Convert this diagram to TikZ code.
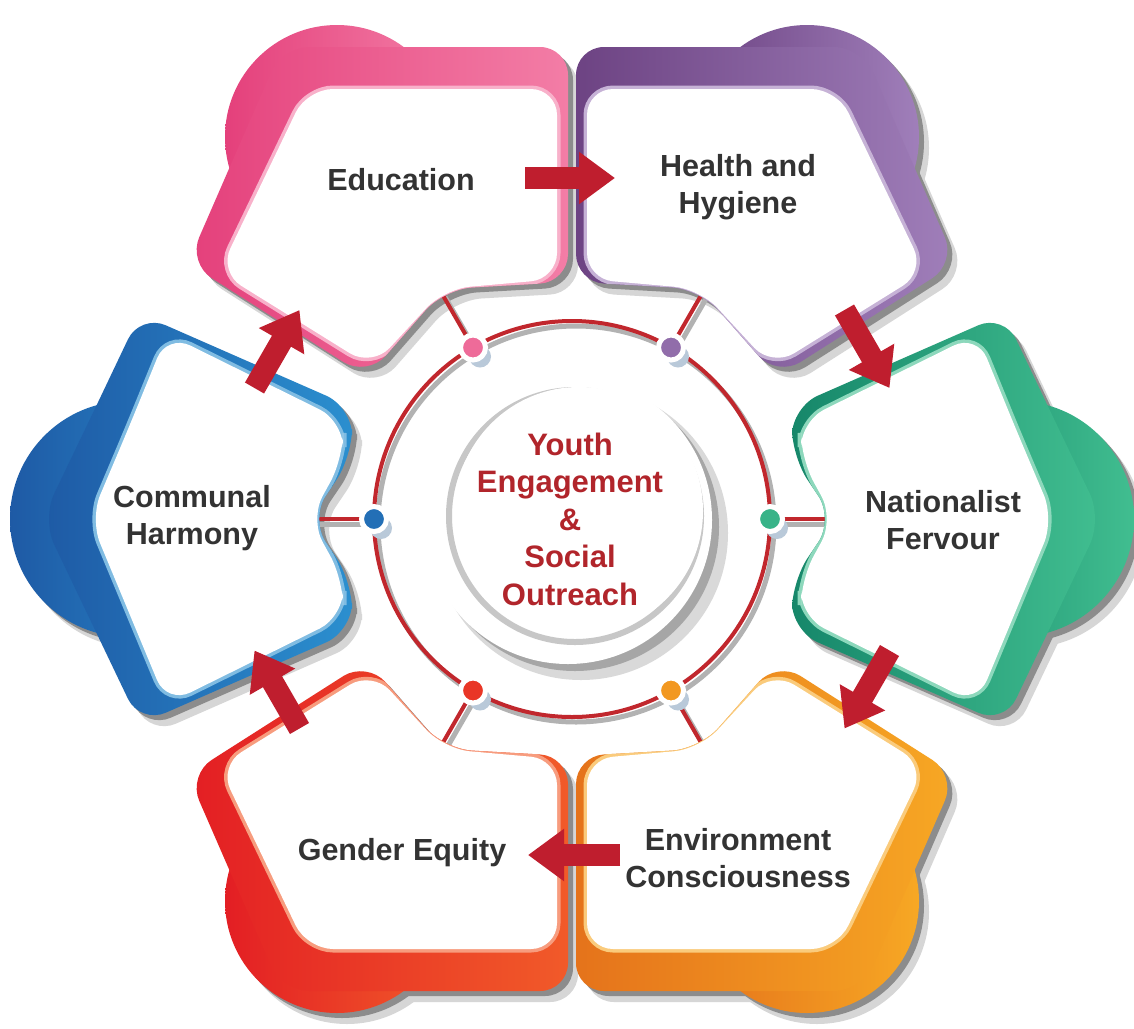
\documentclass[tikz,border=0pt]{standalone}
\usepackage{fontspec}
\setmainfont{Liberation Sans}
\usetikzlibrary{arrows.meta}
\definecolor{pinkA}{HTML}{E4407B}
\definecolor{pinkB}{HTML}{F37DA6}
\definecolor{purpleA}{HTML}{6D4383}
\definecolor{purpleB}{HTML}{A07FBA}
\definecolor{greenA}{HTML}{16876A}
\definecolor{greenB}{HTML}{41BE90}
\definecolor{orangeA}{HTML}{E5731B}
\definecolor{orangeB}{HTML}{F7A824}
\definecolor{redA}{HTML}{E31E24}
\definecolor{redB}{HTML}{F15A29}
\definecolor{blueA}{HTML}{1E5AA5}
\definecolor{blueB}{HTML}{2B8FCF}
\definecolor{arrowred}{HTML}{BF1E2E}
\definecolor{ringred}{HTML}{C1272D}
\definecolor{hubred}{HTML}{B1252B}
\definecolor{labelgray}{HTML}{333333}
\definecolor{blobcol}{HTML}{B9C9D9}
\tikzset{
  eduBack/.style={insert path={(-130,-472) -- (-4,-472) -- (-4,-237) -- (-128,-230) -- (-205,-142) -- (-384,-256) -- (-290,-472) -- cycle}},
  eduWhite/.style={insert path={(-140,-430) -- (-15,-430) -- (-15,-240) -- (-128,-230) -- (-200,-152) -- (-353,-247) -- (-265,-430) -- cycle}},
  eduBump/.style={insert path={(-235,-382) circle[radius=112]}},
  comBack/.style={insert path={(-481,-102) -- (-432,-205) -- (-220,-112) -- (-220,-62) -- (-262,0) -- (-220,62) -- (-220,112) -- (-432,205) -- (-530,0) -- cycle}},
  comWhite/.style={insert path={(-443,-92) -- (-405,-185) -- (-229,-98) -- (-229,-60) -- (-262,0) -- (-229,60) -- (-229,98) -- (-405,185) -- (-482,0) -- cycle}},
  comBump/.style={insert path={(-444,0) circle[radius=118]}},
  lbl/.style={font=\bfseries\fontsize{30.5}{37}\selectfont, text=labelgray, align=center},
  hubtxt/.style={font=\bfseries\fontsize{31}{37.5}\selectfont, text=hubred, align=center},
  arr/.style={draw=arrowred, line width=22pt, -{Triangle[length=36pt,width=50pt]}},
  spoke/.style={draw=ringred, line width=4pt},
  dotnode/.style={circle, draw=white, line width=5pt, minimum size=25pt, inner sep=0pt, fill=#1},
}
\newcommand\petalshadow[3]{%
  \begin{scope}[shift={(582,530)},xscale=#1,yscale=#2]
    \fill[black!16, #3Bump];
    \fill[black!16, rounded corners=28pt, #3Back];
    \fill[black!16, rounded corners=26pt, #3White];
  \end{scope}
  \begin{scope}[shift={(577,524)},xscale=#1,yscale=#2]
    \fill[black!45, #3Bump];
    \fill[black!45, rounded corners=28pt, #3Back];
    \fill[black!45, rounded corners=26pt, #3White];
  \end{scope}}
\newcommand\petal[5]{%
  \begin{scope}[shift={(572,519)},xscale=#1,yscale=#2]
    \shade[left color=#4, right color=#5, #3Bump];
    \shade[left color=#4, right color=#5, rounded corners=28pt, #3Back];
    \begin{scope}
      \clip[rounded corners=28pt, #3Back];
      \draw[#5!60!white, line width=7pt, rounded corners=26pt, #3White];
    \end{scope}
    \fill[white, rounded corners=26pt, #3White];
  \end{scope}}
\begin{document}
\begin{tikzpicture}[x=1pt,y=-1pt]
\useasboundingbox (0,0) rectangle (1134,1028);
\fill[white] (0,0) rectangle (1134,1028);
\coordinate (c) at (572,519);
% shadows
\petalshadow{1}{1}{edu}
\petalshadow{-1}{1}{edu}
\petalshadow{1}{-1}{edu}
\petalshadow{-1}{-1}{edu}
\petalshadow{1}{1}{com}
\petalshadow{-1}{1}{com}
% ring points and notches
\coordinate (p0) at (770,519);   \coordinate (n0) at (834,519);
\coordinate (p1) at (671,347.5); \coordinate (n1) at (703,292);
\coordinate (p2) at (473,347.5); \coordinate (n2) at (441,292);
\coordinate (p3) at (374,519);   \coordinate (n3) at (310,519);
\coordinate (p4) at (473,690.5); \coordinate (n4) at (441,746);
\coordinate (p5) at (671,690.5); \coordinate (n5) at (703,746);
% spokes (under the petals, so they stop at the white edge)
\foreach \k in {0,...,5}{\draw[black!30, line width=5pt] ([shift={(4,5)}]p\k) -- ([shift={(4,5)}]n\k);}
\foreach \k in {0,...,5}{\draw[spoke] (p\k) -- (n\k);}
% petals
\petal{1}{1}{edu}{pinkA}{pinkB}
\petal{-1}{1}{edu}{purpleA}{purpleB}
\petal{1}{-1}{edu}{redA}{redB}
\petal{-1}{-1}{edu}{orangeA}{orangeB}
\petal{1}{1}{com}{blueA}{blueB}
\petal{-1}{1}{com}{greenA}{greenB}
% ring
\draw[black!30, line width=5pt] (576,524) circle[radius=198];
\draw[ringred, line width=4pt] (c) circle[radius=198];
% dots
\foreach \k in {0,...,5}{\fill[blobcol] ([shift={(7,9)}]p\k) circle[radius=11];}
\node[dotnode=greenB!80!greenA]  (d0) at (p0) {};
\node[dotnode=purpleB!70!purpleA] (d1) at (p1) {};
\node[dotnode=pinkB!70!pinkA]  (d2) at (p2) {};
\node[dotnode=blueA!60!blueB]  (d3) at (p3) {};
\node[dotnode=redA!60!redB]    (d4) at (p4) {};
\node[dotnode=orangeB!70!orangeA] (d5) at (p5) {};
% centre disk
\fill[black!15] (581,533) circle[radius=147];
\fill[black!35] (575,527) circle[radius=144];
\node[circle, fill=white, minimum size=288pt, inner sep=0pt] (disk) at (568,520) {};
\draw[black!22, line width=6pt] (575,516) circle[radius=126];
\fill[white] (579,511) circle[radius=124];
\node[hubtxt] (hub) at (570,519) {Youth\\Engagement\\\&\\Social\\Outreach};
% labels
\node[lbl] (edu) at (401,180) {Education};
\node[lbl] (hea) at (738,187) {Health and\\Hygiene};
\node[lbl] (nat) at (943,520) {Nationalist\\Fervour};
\node[lbl] (env) at (738,858) {Environment\\Consciousness};
\node[lbl] (gen) at (402,853) {Gender Equity};
\node[lbl] (com) at (192,518) {Communal\\Harmony};
% arrows
\coordinate (a1s) at (525,178);   \coordinate (a1e) at (615,178);
\coordinate (a2s) at (844.5,310); \coordinate (a2e) at (889.5,388);
\coordinate (a3s) at (889.5,650.5); \coordinate (a3e) at (844.5,728.5);
\coordinate (a4s) at (620,855);   \coordinate (a4e) at (528,855);
\coordinate (a5s) at (299.5,728.5); \coordinate (a5e) at (254.5,650.5);
\coordinate (a6s) at (254.5,388); \coordinate (a6e) at (299.5,310);
\foreach \k in {1,...,6}{\draw[arr] (a\k s) -- (a\k e);}
\end{tikzpicture}
\end{document}
